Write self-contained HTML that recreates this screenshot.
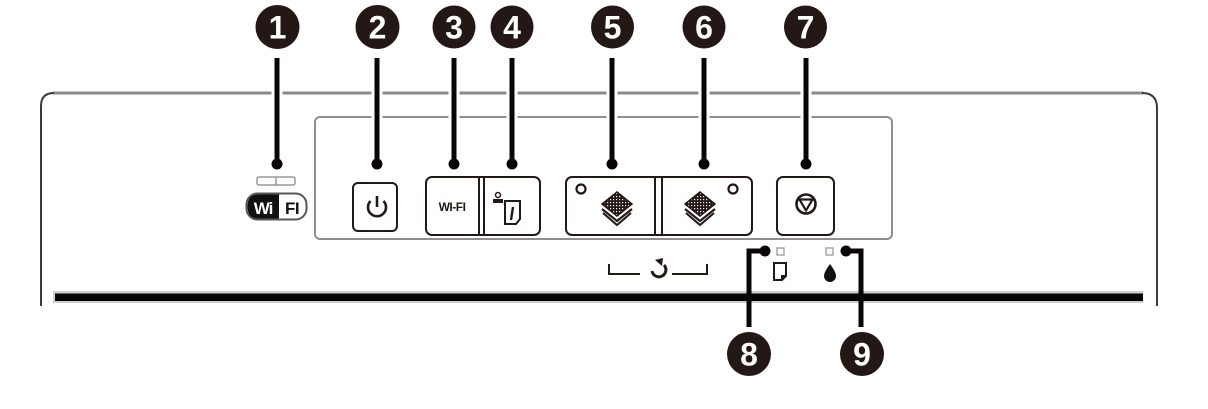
<!DOCTYPE html>
<html><head><meta charset="utf-8"><style>
html,body{margin:0;padding:0;background:#fff;}
svg{display:block;}
text{font-family:"Liberation Sans",sans-serif;}
</style></head><body>
<svg width="1208" height="409" viewBox="0 0 1208 409" xmlns="http://www.w3.org/2000/svg">
<defs>
<pattern id="hatch" width="3" height="3" patternUnits="userSpaceOnUse">
<rect width="3" height="3" fill="#231815"/>
<rect x="1" y="1" width="1.2" height="1.2" fill="#fff"/>
</pattern>
</defs>
<!-- outer frame -->
<path d="M53 93 L1143 93" stroke="#8a8a8a" stroke-width="3" fill="none"/>
<path d="M41 306 L41 106 Q41 93 54 93" stroke="#3e3a39" stroke-width="2" fill="none"/>
<path d="M1142 93 Q1157 93 1157 108 L1157 306" stroke="#3e3a39" stroke-width="2" fill="none"/>
<!-- inner panel -->
<rect x="315" y="117" width="577" height="122" rx="5" fill="none" stroke="#8f8f8f" stroke-width="2"/>
<!-- thick bottom line -->
<rect x="53" y="291" width="1090" height="12" fill="#cfcfcf"/>
<rect x="55" y="293.5" width="1088" height="7.5" fill="#050303"/>

<!-- top leaders with white halo -->
<g stroke="#fff" stroke-width="11">
<line x1="277" y1="80" x2="277" y2="130"/>
<line x1="377" y1="80" x2="377" y2="130"/>
<line x1="454" y1="80" x2="454" y2="130"/>
<line x1="512" y1="80" x2="512" y2="130"/>
<line x1="612" y1="80" x2="612" y2="130"/>
<line x1="704" y1="80" x2="704" y2="130"/>
<line x1="806" y1="80" x2="806" y2="130"/>
</g>
<g stroke="#0a0606" stroke-width="5">
<line x1="277" y1="58" x2="277" y2="164"/>
<line x1="377" y1="58" x2="377" y2="164"/>
<line x1="454" y1="58" x2="454" y2="164"/>
<line x1="512" y1="58" x2="512" y2="164"/>
<line x1="612" y1="58" x2="612" y2="164"/>
<line x1="704" y1="58" x2="704" y2="164"/>
<line x1="806" y1="58" x2="806" y2="164"/>
</g>
<g fill="#0a0606">
<circle cx="277" cy="164" r="5.5"/>
<circle cx="377" cy="164" r="5.5"/>
<circle cx="454" cy="164" r="5.5"/>
<circle cx="512" cy="164" r="5.5"/>
<circle cx="612" cy="164" r="5.5"/>
<circle cx="704" cy="164" r="5.5"/>
<circle cx="806" cy="164" r="5.5"/>
</g>
<!-- number circles -->
<g fill="#231815">
<circle cx="277.5" cy="27" r="22"/>
<circle cx="377.5" cy="27" r="22"/>
<circle cx="454" cy="27" r="21.5"/>
<circle cx="512" cy="27" r="21.5"/>
<circle cx="612.5" cy="27" r="21.5"/>
<circle cx="704" cy="27" r="21.5"/>
<circle cx="805.5" cy="27" r="21.5"/>
<circle cx="749" cy="354" r="22"/>
<circle cx="862" cy="354" r="22"/>
</g>
<g fill="#fff" font-size="32" font-weight="bold" text-anchor="middle">
<text x="277.5" y="38.5">1</text>
<text x="377.5" y="38.5">2</text>
<text x="454" y="38.5">3</text>
<text x="512" y="38.5">4</text>
<text x="612.5" y="38.5">5</text>
<text x="704" y="38.5">6</text>
<text x="805.5" y="38.5">7</text>
<text x="749" y="365.5">8</text>
<text x="862" y="365.5">9</text>
</g>

<!-- wifi LED + logo -->
<rect x="257" y="177" width="38" height="8" rx="2" fill="none" stroke="#999" stroke-width="1.5"/>
<line x1="276" y1="177" x2="276" y2="185" stroke="#999" stroke-width="1.5"/>
<rect x="246.5" y="193.5" width="60" height="26" rx="11" fill="#fff" stroke="#555" stroke-width="2"/>
<path d="M258 194.5 L279 194.5 L279 218.5 L258 218.5 Q247.5 218.5 247.5 206.5 Q247.5 194.5 258 194.5 Z" fill="#111"/>
<text x="263" y="214" font-size="17" font-weight="bold" fill="#fff" text-anchor="middle" letter-spacing="-1">Wi</text>
<text x="292" y="214" font-size="17" font-weight="bold" fill="#111" text-anchor="middle" letter-spacing="-0.5">FI</text>

<!-- power button -->
<rect x="353" y="183" width="44" height="48" rx="5" fill="#fff" stroke="#231815" stroke-width="2"/>
<path d="M370.5 201 A9 9 0 1 0 383.5 201" fill="none" stroke="#231815" stroke-width="2.6"/>
<line x1="377" y1="196" x2="377" y2="207" stroke="#231815" stroke-width="2.6"/>

<!-- wifi group -->
<rect x="426" y="177" width="114" height="58" rx="6" fill="#fff" stroke="#231815" stroke-width="2"/>
<line x1="479" y1="177" x2="479" y2="235" stroke="#231815" stroke-width="2"/>
<line x1="484" y1="177" x2="484" y2="235" stroke="#231815" stroke-width="2"/>
<text x="452" y="211" font-size="12" font-weight="bold" fill="#231815" text-anchor="middle" letter-spacing="-0.5">WI-FI</text>
<!-- network status icon -->
<circle cx="498" cy="195" r="2.5" fill="none" stroke="#231815" stroke-width="1.5"/>
<path d="M493 203 L493 199 L503 199 L503 203 Z" fill="#231815"/>
<path d="M505 201 L520 201 L520 219 L516 224 L505 224 Z" fill="#fff" stroke="#231815" stroke-width="2"/>
<line x1="513" y1="207" x2="511" y2="220" stroke="#231815" stroke-width="2.4"/>

<!-- copy group -->
<rect x="566" y="177" width="186" height="58" rx="6" fill="#fff" stroke="#231815" stroke-width="2"/>
<line x1="655" y1="177" x2="655" y2="235" stroke="#231815" stroke-width="2"/>
<line x1="662" y1="177" x2="662" y2="235" stroke="#231815" stroke-width="2"/>
<!-- small diamond icons -->
<circle cx="581" cy="189" r="4.5" fill="none" stroke="#231815" stroke-width="2.2"/>
<circle cx="733" cy="189" r="4.5" fill="none" stroke="#231815" stroke-width="2.2"/>
<!-- stack icons -->
<g>
<path d="M617 192 L632 204 L617 216 L602 204 Z" fill="url(#hatch)" stroke="#231815" stroke-width="1.5"/>
<path d="M602 209 L617 221 L632 209" fill="none" stroke="#231815" stroke-width="2.2"/>
<path d="M603 213 L617 225 L631 213" fill="none" stroke="#231815" stroke-width="2"/>
</g>
<g>
<path d="M700 192 L715 204 L700 216 L685 204 Z" fill="url(#hatch)" stroke="#231815" stroke-width="1.5"/>
<path d="M685 209 L700 221 L715 209" fill="none" stroke="#231815" stroke-width="2.2"/>
<path d="M686 213 L700 225 L714 213" fill="none" stroke="#231815" stroke-width="2"/>
</g>

<!-- stop button -->
<rect x="777" y="177" width="57" height="58" rx="6" fill="#fff" stroke="#231815" stroke-width="2"/>
<circle cx="806" cy="204" r="9.5" fill="none" stroke="#231815" stroke-width="2.6"/>
<path d="M799.5 199.5 L812.5 199.5 L806 210.5 Z" fill="none" stroke="#231815" stroke-width="2.2"/>

<!-- bracket + symbol -->
<path d="M609 264 L609 274 L640 274" fill="none" stroke="#231815" stroke-width="2"/>
<path d="M672 274 L707 274 L707 264" fill="none" stroke="#231815" stroke-width="2"/>
<path d="M664 265 A7 7 0 1 1 652 271" fill="none" stroke="#231815" stroke-width="3"/>
<path d="M655 260 L663 258 L662 266 Z" fill="#231815"/>

<!-- bottom LEDs and icons -->
<rect x="777" y="248" width="7" height="7" fill="none" stroke="#999" stroke-width="1.3"/>
<rect x="826" y="248" width="7" height="7" fill="none" stroke="#999" stroke-width="1.3"/>
<path d="M774 263 L786 263 L786 276 L782 280 L774 280 Z" fill="#fff" stroke="#231815" stroke-width="2"/>
<path d="M786 275 L781 275 L781 280 Z" fill="#231815"/>
<path d="M830 264 Q836 272 836 276 A6 6 0 0 1 824 276 Q824 272 830 264 Z" fill="#111"/>

<!-- bottom leaders -->
<path d="M749 327 L749 251 L765 251" fill="none" stroke="#0a0606" stroke-width="5"/>
<circle cx="765" cy="251" r="5.5" fill="#0a0606"/>
<path d="M861 327 L861 251 L846 251" fill="none" stroke="#0a0606" stroke-width="5"/>
<circle cx="846" cy="251" r="5.5" fill="#0a0606"/>
</svg>
</body></html>
